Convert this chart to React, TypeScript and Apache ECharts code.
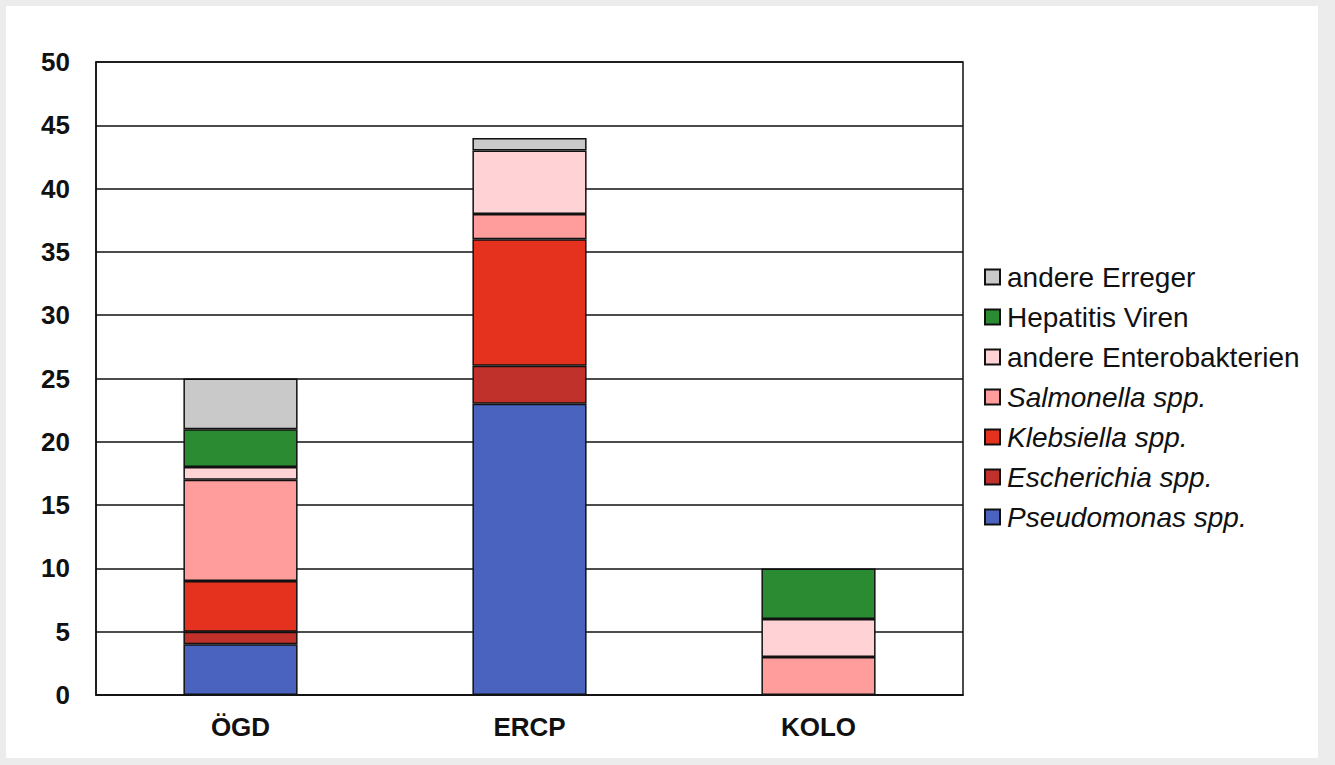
import React, { useEffect, useRef } from "react";
import * as echarts from "echarts";

const categories = ["ÖGD", "ERCP", "KOLO"];
const seriesNames = [
  "Pseudomonas spp.",
  "Escherichia spp.",
  "Klebsiella spp.",
  "Salmonella spp.",
  "andere Enterobakterien",
  "Hepatitis Viren",
  "andere Erreger",
];
const italicNames = ["Pseudomonas spp.", "Escherichia spp.", "Klebsiella spp.", "Salmonella spp."];
const pseudomonas = [4, 23, null];
const escherichia = [1, 3, null];
const klebsiella = [4, 10, null];
const salmonella = [8, 2, 3];
const andereEntero = [1, 5, 3];
const hepatitis = [3, null, 4];
const andereErreger = [4, 1, null];
const seriesValues = [pseudomonas, escherichia, klebsiella, salmonella, andereEntero, hepatitis, andereErreger];
const seriesColors = ["#4a63bf", "#c0312b", "#e5321f", "#ff9d9d", "#ffd3d5", "#2b8b33", "#c9c9c9"];
const yTicks = [0, 5, 10, 15, 20, 25, 30, 35, 40, 45, 50];

const FONT = "Liberation Sans, Arial, sans-serif";

export default function App() {
  const ref = useRef<HTMLDivElement>(null);
  useEffect(() => {
    if (!ref.current) return;
    const chart = echarts.init(ref.current, undefined, { renderer: "svg" });
    chart.setOption({
      animation: false,
      backgroundColor: "transparent",
      grid: {
        left: 96,
        top: 62,
        right: 372,
        bottom: 70,
        show: true,
        borderColor: "#111",
        borderWidth: 1.5,
        backgroundColor: "transparent",
      },
      legend: {
        orient: "vertical",
        left: 984,
        top: 263,
        padding: 0,
        itemWidth: 15,
        itemHeight: 15,
        itemGap: 12,
        icon: "rect",
        data: [...seriesNames].reverse(),
        formatter: (name: string) =>
          italicNames.includes(name) ? `{i|${name}}` : `{n|${name}}`,
        textStyle: {
          fontFamily: FONT,
          fontSize: 28,
          color: "#111",
          padding: [0, 0, 0, 2],
          rich: {
            i: { fontStyle: "italic", fontSize: 28, color: "#111", fontFamily: FONT },
            n: { fontSize: 28, color: "#111", fontFamily: FONT },
          },
        },
      },
      xAxis: {
        type: "category",
        data: categories,
        axisTick: { show: false },
        axisLine: { show: true, lineStyle: { color: "#111", width: 1.5 } },
        axisLabel: {
          fontFamily: FONT,
          fontSize: 26,
          fontWeight: "bold",
          color: "#111",
          margin: 19,
        },
      },
      yAxis: {
        type: "value",
        min: yTicks[0],
        max: yTicks[yTicks.length - 1],
        interval: 5,
        axisLine: { show: true, lineStyle: { color: "#111", width: 1.5 } },
        axisTick: { show: false },
        splitLine: { show: true, lineStyle: { color: "#111", width: 1.5 } },
        axisLabel: {
          fontFamily: FONT,
          fontSize: 26,
          fontWeight: "bold",
          color: "#111",
          margin: 26,
        },
      },
      series: seriesNames.map((name, i) => ({
        name,
        type: "bar",
        stack: "total",
        barWidth: "39.5%",
        data: seriesValues[i],
        itemStyle: { color: seriesColors[i], borderColor: "#111", borderWidth: 1.5 },
      })),
    });
    return () => chart.dispose();
  }, []);

  return (
    <div style={{ position: "fixed", left: 0, top: 0, width: 1335, height: 765, background: "#ececec" }}>
      <div style={{ position: "absolute", left: 6, top: 6, width: 1312, height: 752, background: "#ffffff" }} />
      <div ref={ref} style={{ position: "absolute", left: 0, top: 0, width: 1335, height: 765 }} />
    </div>
  );
}
